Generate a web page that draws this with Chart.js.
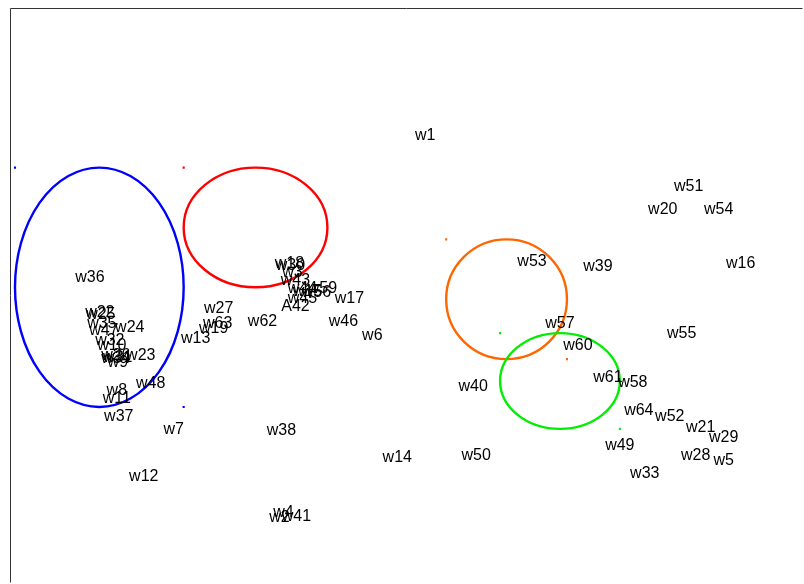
<!DOCTYPE html>
<html>
<head>
<meta charset="utf-8">
<style>
  html, body { margin: 0; padding: 0; background: #ffffff; }
  #wrap { width: 804px; height: 584px; }
</style>
<script src="https://cdn.jsdelivr.net/npm/chart.js@4/dist/chart.umd.min.js"></script>
</head>
<body>
<div id="wrap"><canvas id="c" width="804" height="584"></canvas></div>
<script>
// Word labels and their map coordinates
const labels = [
  'w1','w51','w20','w54','w16','w39','w53','w36','w27','w17','w46','w6','w62','w63','w19','w13',
  'w57','w55','w60','w40','w61','w58','w64','w52','w21','w29','w49','w28','w5','w33','w50','w14',
  'w38','w7','w12','w4','w2','w41',
  'w22','w25','w35','w47','w24','w32','w10','w26','w31','w34','w9','w23','w48','w8','w11','w37',
  'w18','w30','w3','w43','w44','w15','w56','w59','w45','A42'
];
const xValues = [
  415,679,653,709,731,588,522,79,208,339,333,362,252,207,203,185,
  550,672,568,463,598,623,629,660,691,714,610,686,714,635,466,387,
  271,163,133,273,269,286,
  89,90,91,93,119,99,101,105,107,105,107,130,140,106,106,108,
  279,280,282,285,292,297,306,312,292,285
];
const yValues = [
  450,398,375,375,321,318,323,307,276,286,263,249,263,261,256,246,
  261,251,239,198,207,202,174,168,157,147,139,129,124,111,129,127,
  154,155,108,72,67,68,
  272,270,261,254,257,244,239,229,227,226,222,229,201,194,186,168,
  321,319,312,304,296,293,292,296,286,278
];

// Group ellipses: centre and radii in map units
const groupColors = ['#0000ff', '#ff0000', '#ff6600', '#00ee00'];
const ellipseCx = [88.5, 245, 496.5, 550];
const ellipseCy = [296, 356, 284, 202];
const ellipseRx = [84.5, 72, 60.5, 60];
const ellipseRy = [120, 60, 60, 48];

const X_MIN = 0, X_MAX = 793, Y_MIN = 0, Y_MAX = 575;

const wordPoints = xValues.map((x, i) => ({ x: x, y: yValues[i], label: labels[i] }));

// Small corner marks of each ellipse's bounding box
const cornerSets = ellipseCx.map((cx, i) => ({
  type: 'scatter',
  data: [
    { x: cx - ellipseRx[i], y: ellipseCy[i] + ellipseRy[i] },
    { x: cx + ellipseRx[i], y: ellipseCy[i] - ellipseRy[i] }
  ],
  pointStyle: 'rect',
  pointRadius: 1.5,
  pointHoverRadius: 1.5,
  backgroundColor: groupColors[i],
  borderColor: groupColors[i],
  borderWidth: 0
}));

const ellipsePlugin = {
  id: 'ellipses',
  afterDatasetsDraw(chart) {
    const ctx = chart.ctx;
    const xs = chart.scales.x, ys = chart.scales.y;
    ctx.save();
    for (let i = 0; i < ellipseCx.length; i++) {
      const px = xs.getPixelForValue(ellipseCx[i]);
      const py = ys.getPixelForValue(ellipseCy[i]);
      const rx = Math.abs(xs.getPixelForValue(ellipseCx[i] + ellipseRx[i]) - px);
      const ry = Math.abs(ys.getPixelForValue(ellipseCy[i] + ellipseRy[i]) - py);
      ctx.beginPath();
      ctx.ellipse(px, py, rx, ry, 0, 0, Math.PI * 2);
      ctx.strokeStyle = groupColors[i];
      ctx.lineWidth = 2.4;
      ctx.stroke();
    }
    ctx.restore();
  }
};

const labelPlugin = {
  id: 'wordLabels',
  afterDatasetsDraw(chart) {
    const ctx = chart.ctx;
    const meta = chart.getDatasetMeta(0);
    ctx.save();
    ctx.font = '16px "Liberation Sans", Arial, sans-serif';
    ctx.fillStyle = '#000000';
    ctx.textAlign = 'center';
    ctx.textBaseline = 'middle';
    meta.data.forEach((el, i) => {
      ctx.fillText(wordPoints[i].label, el.x, el.y + 1.5);
    });
    ctx.restore();
  }
};

const framePlugin = {
  id: 'frame',
  afterDraw(chart) {
    const a = chart.chartArea;
    const ctx = chart.ctx;
    ctx.save();
    ctx.strokeStyle = '#333333';
    ctx.lineWidth = 1;
    ctx.beginPath();
    ctx.moveTo(a.left - 0.5, a.bottom);
    ctx.lineTo(a.left - 0.5, a.top - 0.5);
    ctx.lineTo(a.right, a.top - 0.5);
    ctx.stroke();
    ctx.restore();
  }
};

new Chart(document.getElementById('c'), {
  type: 'scatter',
  data: {
    datasets: [
      {
        data: wordPoints,
        pointRadius: 0,
        pointHoverRadius: 0,
        backgroundColor: 'rgba(0,0,0,0)',
        borderColor: 'rgba(0,0,0,0)'
      },
      ...cornerSets
    ]
  },
  options: {
    responsive: false,
    animation: false,
    layout: { padding: { left: 11, top: 9, right: 0, bottom: 0 } },
    plugins: {
      legend: { display: false },
      tooltip: { enabled: false }
    },
    scales: {
      x: { type: 'linear', min: X_MIN, max: X_MAX, display: false },
      y: { type: 'linear', min: Y_MIN, max: Y_MAX, display: false }
    }
  },
  plugins: [ellipsePlugin, labelPlugin, framePlugin]
});
</script>
</body>
</html>
